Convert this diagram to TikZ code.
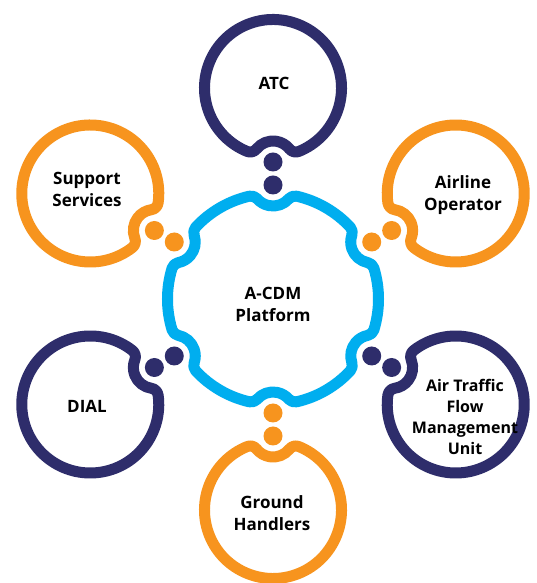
\documentclass[tikz,border=0pt]{standalone}
\usepackage{fontspec}
\setmainfont{Open Sans}
\usetikzlibrary{calc}
\definecolor{navy}{RGB}{46,45,107}
\definecolor{corange}{RGB}{247,148,30}
\definecolor{cblue}{RGB}{0,174,239}
\tikzset{
  ringline/.style={line width=11pt, line join=round},
  dotnode/.style={circle, inner sep=0pt, minimum size=19pt, draw=none},
  lbl/.style={font=\bfseries\fontsize{17}{22}\selectfont, align=center, text=black, inner sep=0pt},
  lblsmall/.style={font=\bfseries\fontsize{16}{20.7}\selectfont, align=center, text=black, inner sep=0pt},
}
% fillet radius
\def\fr{8}
% hub geometry: main radius, notch radius, fillet angle beta, notch angle gamma, fillet dir delta
\def\hubR{105.5}\def\hubr{21}\def\hubB{12.99}\def\hubG{130.9}\def\hubD{49.1}
% satellite geometry
\def\outR{68.5}\def\outr{21}\def\outB{22.13}\def\outG{128.23}\def\outD{51.77}
\newcommand\satellite[3]{%
  \coordinate (#3) at ($(H)+(#1:211)$);
  \pgfmathsetmacro\psiang{#1+180}
  \draw[ringline,#2] ($(#3)+(\psiang+\outB:\outR)$)
    arc[start angle=\psiang+\outB, end angle=\psiang+360-\outB, radius=\outR]
    arc[start angle=\psiang-\outB, end angle=\psiang+\outD, radius=\fr]
    arc[start angle=\psiang+360-\outG, end angle=\psiang+\outG, radius=\outr]
    arc[start angle=\psiang-\outD, end angle=\psiang+\outB, radius=\fr] -- cycle;
  \node[dotnode,fill=#2] (#3-d1) at ($(H)+(#1:114)$) {};
  \node[dotnode,fill=#2] (#3-d2) at ($(H)+(#1:137)$) {};
}
\begin{document}
\begin{tikzpicture}[x=1pt,y=1pt]
\useasboundingbox[fill=white] (0,0) rectangle (536,583);
\coordinate (H) at (273,284);
\draw[ringline,cblue] ($(H)+(30+\hubB:\hubR)$)
  \foreach \k in {0,...,5}{
    arc[start angle={30+60*\k+\hubB}, end angle={90+60*\k-\hubB}, radius=\hubR]
    arc[start angle={90+60*\k-\hubB}, end angle={90+60*\k+\hubD}, radius=\fr]
    arc[start angle={90+60*\k+360-\hubG}, end angle={90+60*\k+\hubG}, radius=\hubr]
    arc[start angle={90+60*\k-\hubD}, end angle={90+60*\k+\hubB}, radius=\fr]
  } -- cycle;
\satellite{90}{navy}{atc}
\satellite{30}{corange}{ao}
\satellite{-30}{navy}{atfm}
\satellite{270}{corange}{gh}
\satellite{210}{navy}{dial}
\satellite{150}{corange}{ss}
\node[lbl] (tatc) at (274,500) {ATC};
\node[lbl] (tss) at (87,394) {Support\\Services};
\node[lbl] (tao) at (463,388) {Airline\\Operator};
\node[lbl] (thub) at (273,279) {A-CDM\\Platform};
\node[lbl] (tdial) at (87,177) {DIAL};
\node[lblsmall] (tatfm) at (465,166) {Air Traffic\\Flow\\Management\\Unit};
\node[lbl] (tgh) at (272,70) {Ground\\Handlers};
\end{tikzpicture}
\end{document}
